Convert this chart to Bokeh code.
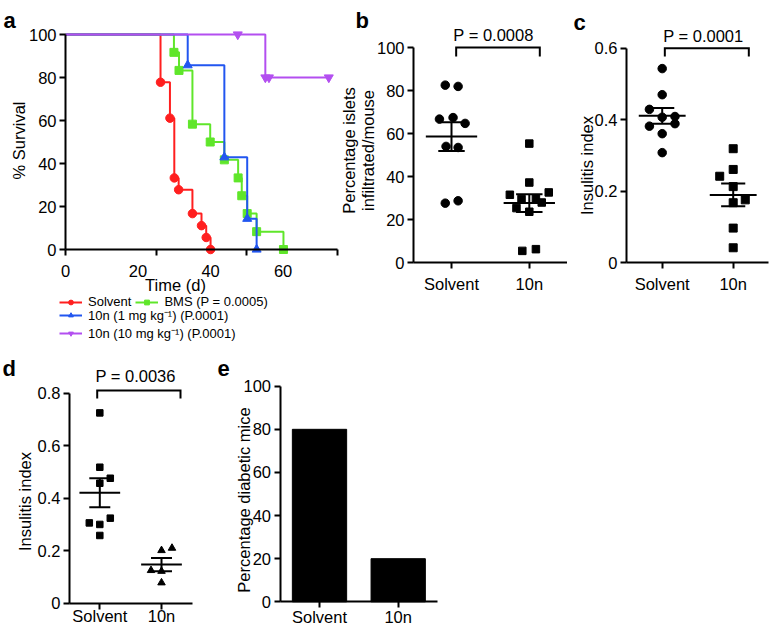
import numpy as np
from bokeh.plotting import figure
from bokeh.models import Range1d, FixedTicker, Label, Legend, LegendItem
from bokeh.layouts import column, row
from bokeh.embed import file_html
from bokeh.resources import INLINE

# ---------------- data ----------------
# panel a: Kaplan-Meier survival, time (d) vs % survival
solvent_t = [0, 26.2, 28.8, 30.0, 31.2, 35.0, 37.5, 38.8, 40.0]
solvent_s = [100, 77.8, 61.1, 33.3, 27.8, 16.7, 11.1, 5.6, 0]
bms_t = [0, 29.9, 31.3, 35.0, 39.9, 43.8, 47.6, 48.6, 50.1, 52.7, 60.1]
bms_s = [100, 91.7, 83.3, 58.3, 50.0, 41.7, 33.3, 25.0, 16.7, 8.3, 0]
n1_t = [0, 33.7, 43.8, 50.1, 52.7]
n1_s = [100, 85.7, 42.9, 14.3, 0]
n10_t = [0, 55.1, 72.6]
n10_s = [100, 80, 80]
n10_mark_t = [47.5, 55.1, 56.1, 72.6]
n10_mark_s = [100, 80, 80, 80]
legend_labels = ["Solvent", "BMS (P = 0.0005)",
                 "10n (1 mg kg\u207b\u00b9) (P.0001)", "10n (10 mg kg\u207b\u00b9) (P.0001)"]
time_labels = [0, 20, 40, 60]
time_tick_marks = [0, 25, 50, 75]
survival_ticks = [0, 20, 40, 60, 80, 100]

groups = ["Solvent", "10n"]
# panel b: percentage islets infiltrated / mouse
b_solvent = [82.5, 81.9, 66.7, 67.4, 64.7, 54.0, 53.5, 27.6, 28.7]
b_10n = [55.3, 37.2, 31.5, 32.6, 29.5, 29.8, 27.9, 25.3, 23.6, 5.4, 6.2]
b_ticks = [0, 20, 40, 60, 80, 100]
b_p = "P = 0.0008"
# panel c: insulitis index
c_solvent = [0.543, 0.470, 0.429, 0.407, 0.409, 0.382, 0.389, 0.361, 0.308]
c_10n = [0.319, 0.261, 0.242, 0.213, 0.168, 0.176, 0.097, 0.042]
c_ticks = [0, 0.2, 0.4, 0.6]
c_tick_labels = ["0", "0.2", "0.4", "0.6"]
c_p = "P = 0.0001"
# panel d: insulitis index
d_solvent = [0.725, 0.518, 0.476, 0.457, 0.306, 0.300, 0.324, 0.258]
d_10n = [0.201, 0.210, 0.125, 0.122, 0.078]
d_ticks = [0, 0.2, 0.4, 0.6, 0.8]
d_tick_labels = ["0", "0.2", "0.4", "0.6", "0.8"]
d_p = "P = 0.0036"
# panel e: percentage diabetic mice
e_values = [80, 20]
e_ticks = [0, 20, 40, 60, 80, 100]

# horizontal scatter offsets (layout only, category units)
b_solvent_dx = [-0.08, 0.085, -0.155, 0.02, 0.175, -0.07, 0.085, -0.08, 0.085]
b_10n_dx = [0, 0, -0.25, 0.25, -0.1, 0.085, 0.16, -0.165, 0, -0.09, 0.085]
c_solvent_dx = [0, 0, -0.18, 0, 0.18, -0.18, 0.18, 0, 0]
c_10n_dx = [0, 0, -0.19, 0, 0, 0.17, 0, 0]
d_solvent_dx = [0, 0, 0.17, 0, -0.17, 0, 0.17, 0]
d_10n_dx = [0, 0.17, -0.17, 0, 0]

FONT = "Liberation Sans"
FS = "16.5px"
RED, GREEN, BLUE, PURPLE = "#ff1f1f", "#5fe62a", "#2256f0", "#b34ff0"
ROW1_H, ROW2_H = 344, 282


class Panel:
    """A figure whose frame fills its whole canvas; axes are pinned inside it."""

    def __init__(self, box, xmap, ymap):
        X0, Y0, W, H = box
        (xv0, xp0), (xv1, xp1) = xmap
        (yv0, yp0), (yv1, yp1) = ymap
        self.sx = (xp1 - xp0) / (xv1 - xv0)
        self.sy = (yp0 - yp1) / (yv1 - yv0)
        self.xv0, self.xp0, self.yv0, self.yp0 = xv0, xp0, yv0, yp0
        p = figure(width=W, height=H, title=None, min_border=0,
                   x_range=Range1d(self.x(X0), self.x(X0 + W)),
                   y_range=Range1d(self.y(Y0 + H), self.y(Y0)),
                   output_backend="svg", toolbar_location=None)
        p.outline_line_color = None
        p.xgrid.visible = False
        p.ygrid.visible = False
        p.background_fill_color = "white"
        p.border_fill_color = "white"
        for ax in p.axis:
            ax.axis_line_width = 2
            ax.axis_line_color = "black"
            ax.major_tick_line_width = 2
            ax.major_tick_line_color = "black"
            ax.major_tick_in = 0
            ax.major_tick_out = 6
            ax.minor_tick_line_color = None
            ax.major_label_text_font = FONT
            ax.major_label_text_font_size = FS
            ax.major_label_text_color = "black"
            ax.major_label_standoff = 3
        self.p = p

    def x(self, px):
        return self.xv0 + (px - self.xp0) / self.sx

    def y(self, py):
        return self.yv0 + (self.yp0 - py) / self.sy

    def axes(self, x_left_px, x_right_px, yticks, ylabels=None, x_standoff=6):
        xa, ya = self.p.xaxis[0], self.p.yaxis[0]
        xa.fixed_location = 0
        xa.bounds = (self.x(x_left_px), self.x(x_right_px))
        xa.ticker = FixedTicker(ticks=[0, 1])
        xa.major_label_overrides = {0: groups[0], 1: groups[1]}
        xa.major_label_standoff = x_standoff
        ya.fixed_location = self.x(x_left_px)
        ya.ticker = FixedTicker(ticks=yticks)
        ya.bounds = (yticks[0], yticks[-1])
        if ylabels is not None:
            ya.major_label_overrides = dict(zip(yticks, ylabels))

    def text(self, s, px, py, size=FS, angle=0.0, bold=False, align="center", baseline="middle"):
        self.p.add_layout(Label(x=self.x(px), y=self.y(py), text=s, text_font=FONT,
                                text_font_size=size, text_color="black",
                                text_font_style="bold" if bold else "normal",
                                angle=angle, text_align=align, text_baseline=baseline))

    def letter(self, s, px, py):
        self.text(s, px, py, size="22px", bold=True, align="left", baseline="alphabetic")

    def dots(self, gi, vals, dx, marker, size):
        self.p.scatter([gi + d for d in dx], vals, marker=marker, size=size,
                       fill_color="black", line_color="black")

    def mean_sem(self, gi, vals, hm=0.33, he=0.17):
        v = np.asarray(vals, dtype=float)
        m = v.mean()
        s = v.std(ddof=1) / np.sqrt(len(v))
        self.p.segment(x0=[gi - hm, gi - he, gi - he, gi], y0=[m, m + s, m - s, m - s],
                       x1=[gi + hm, gi + he, gi + he, gi], y1=[m, m + s, m - s, m + s],
                       line_color="black", line_width=2)

    def bracket(self, x0, x1, y, drop_px, label, tx, text_px):
        drop = drop_px / self.sy
        self.p.line([x0, x0, x1, x1], [y - drop, y, y, y - drop], line_color="black",
                    line_width=2, line_join="miter")
        self.p.add_layout(Label(x=tx, y=y, y_offset=text_px, text=label, text_font=FONT,
                                text_font_size=FS, text_color="black",
                                text_align="center", text_baseline="middle"))


# ---------------- panel a ----------------
A = Panel((0, 0, 339, ROW1_H), ((0, 65), (75, 337)), ((0, 249), (100, 34)))
pa = A.p
xa, ya = pa.xaxis[0], pa.yaxis[0]
xa.fixed_location = 0
xa.bounds = (time_tick_marks[0], time_tick_marks[-1])
xa.ticker = FixedTicker(ticks=time_labels, minor_ticks=time_tick_marks)
xa.major_tick_out = 0
xa.minor_tick_in = 0
xa.minor_tick_out = 6
xa.minor_tick_line_color = "black"
xa.minor_tick_line_width = 2
xa.major_label_standoff = 9
ya.fixed_location = 0
ya.ticker = FixedTicker(ticks=survival_ticks)
ya.bounds = (survival_ticks[0], survival_ticks[-1])

series = [
    (solvent_t, solvent_s, solvent_t[1:], solvent_s[1:], RED, "circle", 8.5),
    (bms_t, bms_s, bms_t[1:], bms_s[1:], GREEN, "square", 8),
    (n1_t, n1_s, n1_t[1:], n1_s[1:], BLUE, "triangle", 9),
    (n10_t, n10_s, n10_mark_t, n10_mark_s, PURPLE, "inverted_triangle", 9),
]
rends = []
for t, s, mt, ms, col, mk, sz in series:
    ln = pa.step(t, s, mode="after", line_color=col, line_width=2)
    sc = pa.scatter(mt, ms, marker=mk, size=sz, fill_color=col, line_color=col)
    rends.append([ln, sc])

leg_style = dict(label_text_font=FONT, label_text_font_size="13px", label_text_color="black",
                 glyph_width=23, glyph_height=12, label_height=12, label_standoff=6,
                 padding=0, margin=0, border_line_color=None, background_fill_alpha=0)
leg1 = Legend(items=[LegendItem(label=legend_labels[0], renderers=rends[0]),
                     LegendItem(label=legend_labels[1], renderers=rends[1])],
              orientation="horizontal", spacing=4, location=(59, 35), **leg_style)
leg2 = Legend(items=[LegendItem(label=legend_labels[2], renderers=rends[2]),
                     LegendItem(label=legend_labels[3], renderers=rends[3])],
              orientation="vertical", spacing=0, location=(59, 2), **leg_style)
pa.add_layout(leg1)
pa.add_layout(leg2)
A.text("% Survival", 18.5, 140, angle=np.pi / 2)
A.text("Time (d)", 175, 284)
A.letter("a", 3, 20)

# ---------------- panel b ----------------
B = Panel((339, 0, 228, ROW1_H), ((0, 451), (1, 528.8)), ((0, 262), (100, 47)))
B.axes(413, 567, b_ticks, x_standoff=6)
B.dots(0, b_solvent, b_solvent_dx, "circle", 8.5)
B.dots(1, b_10n, b_10n_dx, "square", 7.5)
B.mean_sem(0, b_solvent)
B.mean_sem(1, b_10n)
B.bracket(0.06, 1.135, b_ticks[-1], 9, b_p, 0.54, 12.5)
B.text("Percentage islets", 348.3, 150, angle=np.pi / 2)
B.text("infiltrated/mouse", 367.7, 150, angle=np.pi / 2)
B.letter("b", 355, 20)

# ---------------- panel c ----------------
C = Panel((567, 0, 203, ROW1_H), ((0, 661.7), (1, 732.7)), ((0, 262.3), (0.6, 47.7)))
C.axes(626, 768, c_ticks, c_tick_labels, x_standoff=6)
C.dots(0, c_solvent, c_solvent_dx, "circle", 8.5)
C.dots(1, c_10n, c_10n_dx, "square", 8)
C.mean_sem(0, c_solvent)
C.mean_sem(1, c_10n)
C.bracket(0.037, 1.22, c_ticks[-1], 8.4, c_p, 0.58, 12.3)
C.text("Insulitis index", 586, 165, angle=np.pi / 2)
C.letter("c", 573, 22)

# ---------------- panel d ----------------
D = Panel((0, ROW1_H, 210, ROW2_H), ((0, 99.3), (1, 161)), ((0, 602.7), (0.8, 392.7)))
D.axes(69, 192, d_ticks, d_tick_labels, x_standoff=-2)
D.dots(0, d_solvent, d_solvent_dx, "square", 6.5)
D.dots(1, d_10n, d_10n_dx, "triangle", 7.5)
D.mean_sem(0, d_solvent)
D.mean_sem(1, d_10n)
D.bracket(-0.042, 1.308, 0.81, 8, d_p, 0.58, 15)
D.text("Insulitis index", 24, 501, angle=np.pi / 2)
D.letter("d", 2, 368)

# ---------------- panel e ----------------
E = Panel((210, ROW1_H, 240, ROW2_H), ((0, 319), (1, 397.7)), ((0, 601.3), (100, 385.7)))
E.axes(279.5, 437, e_ticks, x_standoff=0)
E.p.vbar(x=[0, 1], top=e_values, width=0.69, fill_color="black", line_color="black")
E.text("Percentage diabetic mice", 243, 499.5, angle=np.pi / 2)
E.letter("e", 217, 368)

layout = column(row(A.p, B.p, C.p), row(D.p, E.p))
open("out.html", "w").write(file_html(layout, INLINE))
